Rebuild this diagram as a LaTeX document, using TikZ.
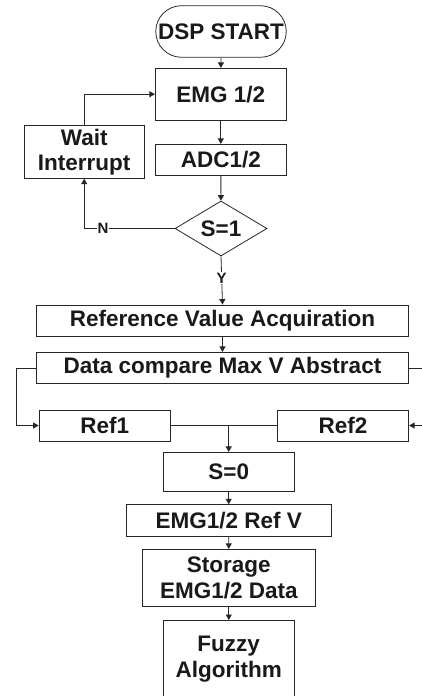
\documentclass[tikz,border=0pt]{standalone}
\usepackage{fontspec}
\setmainfont{Liberation Sans}
\usetikzlibrary{arrows.meta,shapes.geometric,shapes.misc}
\tikzset{
  box/.style={draw=black!85, line width=0.8pt, rectangle, inner sep=0pt, align=center,
    font=\fontsize{22.5}{25.5}\selectfont\bfseries, text=black!90},
  lbl/.style={fill=white, inner sep=1pt, font=\fontsize{15}{17}\selectfont\bfseries, text=black!90},
  conn/.style={draw=black!85, line width=0.8pt},
  arr/.style={conn, -{Triangle[length=5.5pt,width=6pt]}}
}
\begin{document}
\begin{tikzpicture}[x=1pt,y=-1pt]
\useasboundingbox (0,0) rectangle (422,696);
\node[box, rounded rectangle, minimum width=130.5pt, minimum height=51.6pt] (start) at (221,31.5) {DSP START};
\node[box, minimum width=131pt, minimum height=51.7pt] (emg) at (220.8,94.2) {EMG 1/2};
\node[box, minimum width=131pt, minimum height=31pt] (adc) at (220.8,159.8) {ADC1/2};
\node[box, diamond, aspect=1.67, minimum width=92pt, minimum height=55pt] (dia) at (221,228.5) {S=1};
\node[box, minimum width=119.7pt, minimum height=52.6pt] (wait) at (84.2,152) {Wait\\Interrupt};
\node[box, minimum width=372.4pt, minimum height=31.7pt] (rva) at (222.5,320.8) {Reference Value Acquiration};
\node[box, minimum width=372.4pt, minimum height=31.4pt] (dcm) at (222.5,368) {Data compare Max V Abstract};
\node[box, minimum width=131.3pt, minimum height=31pt] (ref1) at (104.7,425.5) {Ref1};
\node[box, minimum width=131.4pt, minimum height=31pt] (ref2) at (343,425.5) {Ref2};
\node[box, minimum width=131.3pt, minimum height=39.4pt] (s0) at (228.7,472) {S=0};
\node[box, minimum width=204.7pt, minimum height=32pt] (refv) at (228.7,520.7) {EMG1/2 Ref V};
\node[box, minimum width=173pt, minimum height=57.4pt] (stor) at (228.8,578) {Storage\\EMG1/2 Data};
\node[box, draw=none] (fuzzy) at (228.7,659) {Fuzzy\\Algorithm};
\coordinate (fbl) at (163,697);
\coordinate (ftl) at (163,620);
\coordinate (ftr) at (294.3,620);
\coordinate (fbr) at (294.3,697);
\draw[conn] (fbl) -- (ftl) -- (ftr) -- (fbr);
% connectors
\draw[arr] (start) -- (emg);
\draw[arr] (emg) -- (adc);
\draw[arr] (adc) -- (dia);
\draw[arr] (wait.north) |- (emg.west);
\draw[arr] (dia.west) -| (wait.south);
\node[lbl] (nlab) at (103,228.5) {N};
\draw[arr] (dia.south) -- (rva.north);
\node[lbl] (ylab) at (221.7,278.3) {Y};
\draw[arr] (rva) -- (dcm);
\coordinate (lc) at (16,368);
\draw[arr] (dcm.west) -- (lc) |- (ref1.west);
\coordinate (rc1) at (422,368);
\coordinate (rc2) at (422,425.5);
\draw[conn] (dcm.east) -- (rc1);
\draw[arr] (rc2) -- (ref2.east);
\draw[conn] (ref1.east) -- (ref2.west);
\coordinate (mg) at (228.7,425.5);
\draw[arr] (mg) -- (s0.north);
\draw[arr] (s0) -- (refv);
\draw[arr] (refv) -- (stor);
\draw[arr] (stor.south) -- (ftl -| stor.south);
\end{tikzpicture}
\end{document}
